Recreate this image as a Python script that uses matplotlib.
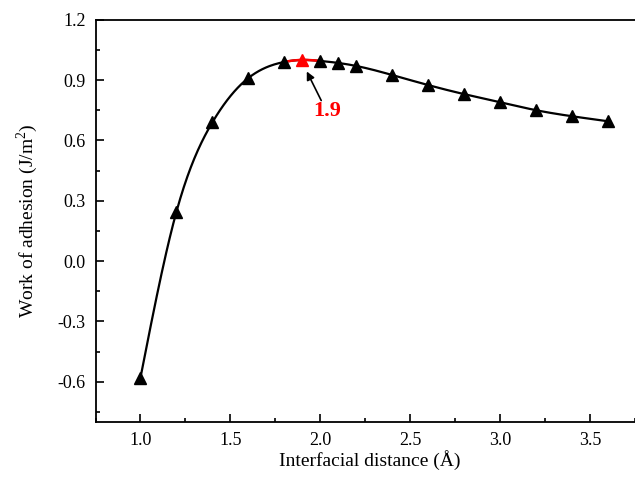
import matplotlib

matplotlib.use("Agg")
import matplotlib.pyplot as plt
import numpy as np
from matplotlib.ticker import MultipleLocator

# Interfacial distance (Å) and work of adhesion (J/m^2)
distance = [1.0, 1.2, 1.4, 1.6, 1.8, 1.9, 2.0, 2.1, 2.2, 2.4, 2.6, 2.8, 3.0, 3.2, 3.4, 3.6]
adhesion = [-0.58, 0.245, 0.69, 0.91, 0.99, 1.0, 0.995, 0.985, 0.97, 0.925, 0.875, 0.83, 0.79, 0.75, 0.72, 0.695]
peak_x = 1.9
peak_label = "1.9"


def natural_spline(x, y, n=400):
    # smooth line through the points (natural cubic spline)
    x = np.asarray(x, float)
    y = np.asarray(y, float)
    h = np.diff(x)
    m = len(x)
    A = np.zeros((m, m))
    b = np.zeros(m)
    A[0, 0] = A[-1, -1] = 1
    for i in range(1, m - 1):
        A[i, i - 1] = h[i - 1]
        A[i, i] = 2 * (h[i - 1] + h[i])
        A[i, i + 1] = h[i]
        b[i] = 6 * ((y[i + 1] - y[i]) / h[i] - (y[i] - y[i - 1]) / h[i - 1])
    M = np.linalg.solve(A, b)
    xs = np.linspace(x[0], x[-1], n)
    idx = np.clip(np.searchsorted(x, xs) - 1, 0, m - 2)
    x0, x1 = x[idx], x[idx + 1]
    hh = x1 - x0
    t0, t1 = x1 - xs, xs - x0
    ys = (M[idx] * t0**3 + M[idx + 1] * t1**3) / (6 * hh) \
        + (y[idx] / hh - M[idx] * hh / 6) * t0 + (y[idx + 1] / hh - M[idx + 1] * hh / 6) * t1
    return xs, ys


plt.rcParams["font.family"] = ["Liberation Serif", "DejaVu Serif"]
plt.rcParams["mathtext.fontset"] = "custom"
plt.rcParams["mathtext.rm"] = "Liberation Serif"

fig = plt.figure(figsize=(6.35, 4.96), dpi=100)
ax = fig.add_axes([95.5 / 635, 1 - 422 / 496, (644 - 95.5) / 635, (422 - 19.7) / 496])

xs, ys = natural_spline(distance, adhesion)
ax.plot(xs, ys, color="black", lw=1.6, zorder=2)
i = distance.index(peak_x)
seg = (xs >= distance[i - 1]) & (xs <= distance[i + 1])
ax.plot(xs[seg], ys[seg], color="red", lw=1.8, zorder=3)

others = [k for k in range(len(distance)) if k != i]
ax.plot([distance[k] for k in others], [adhesion[k] for k in others], "^",
        color="black", ms=8.5, zorder=4)
ax.plot([distance[i]], [adhesion[i]], "^", color="red", ms=8.5, zorder=5)

ax.annotate("", xy=(1.918, 0.955), xytext=(2.012, 0.786),
            arrowprops=dict(arrowstyle="-|>", color="black", lw=1.2, mutation_scale=12))
ax.text(2.036, 0.745, peak_label, color="red", fontsize=16, fontweight="bold",
        ha="center", va="center")

ax.set_xlim(0.75, 3.80)
ax.set_ylim(-0.8, 1.2)
ax.xaxis.set_major_locator(MultipleLocator(0.5))
ax.xaxis.set_minor_locator(MultipleLocator(0.25))
ax.yaxis.set_major_locator(MultipleLocator(0.3))
ax.yaxis.set_minor_locator(MultipleLocator(0.15))
ax.set_xticks([1.0, 1.5, 2.0, 2.5, 3.0, 3.5])
ax.set_yticks([-0.6, -0.3, 0.0, 0.3, 0.6, 0.9, 1.2])
ax.xaxis.set_major_formatter(plt.FormatStrFormatter("%.1f"))
ax.yaxis.set_major_formatter(plt.FormatStrFormatter("%.1f"))
ax.tick_params(which="both", direction="in", top=False, right=False, labelsize=13, width=1.2)
ax.tick_params(which="major", length=6, pad=7)
ax.tick_params(which="minor", length=3)
for s in ax.spines.values():
    s.set_linewidth(1.3)
ax.spines["right"].set_visible(False)

ax.set_xlabel("Interfacial distance (Å)", fontsize=14, labelpad=1)
ax.set_ylabel("Work of adhesion (J/m$^2$)", fontsize=14, labelpad=13)

fig.savefig("out.png", dpi=100)
